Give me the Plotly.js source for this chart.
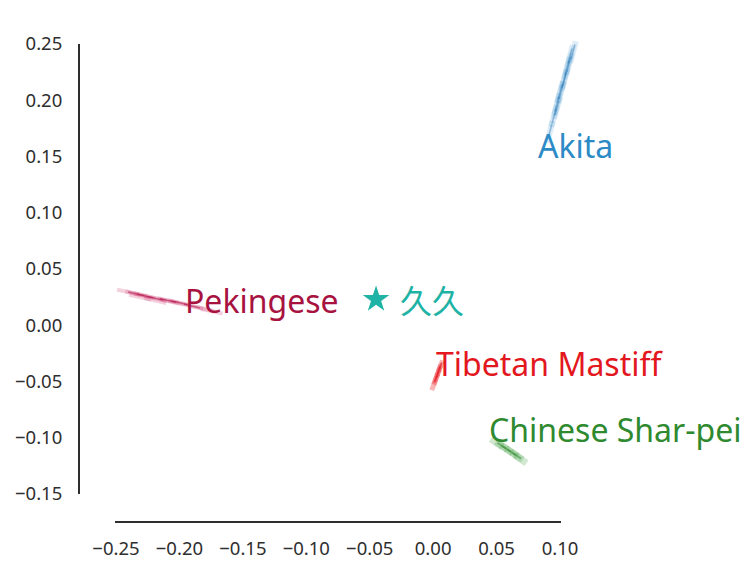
<!DOCTYPE html>
<html>
<head>
<meta charset="utf-8">
<script src="https://cdn.plot.ly/plotly-3.0.1.min.js"></script>
<style>html,body{margin:0;padding:0;background:#ffffff;}</style>
</head>
<body>
<div id="chart" style="width:752px;height:570px;"></div>
<script>
// ---- data ----
const breeds = ["Akita", "Pekingese", "Tibetan Mastiff", "Chinese Shar-pei"];

const akitaX = [0.092, 0.0953, 0.0976, 0.100, 0.1031, 0.1055, 0.1079, 0.0976, 0.1008, 0.1039, 0.1071, 0.1102];
const akitaY = [0.172, 0.186, 0.1967, 0.2073, 0.218, 0.2287, 0.2393, 0.1931, 0.2073, 0.2198, 0.2322, 0.2429];

const pekingeseX = [-0.2405, -0.234, -0.227, -0.219, -0.209, -0.200, -0.190, -0.182, -0.1745, -0.231, -0.219, -0.207];
const pekingeseY = [0.0295, 0.028, 0.026, 0.024, 0.022, 0.020, 0.017, 0.015, 0.0125, 0.025, 0.022, 0.021];

const mastiffX = [0.0005, 0.002, 0.0033, 0.0046, 0.0058];
const mastiffY = [-0.053, -0.048, -0.044, -0.040, -0.036];

const sharpeiX = [0.050, 0.054, 0.058, 0.062, 0.066, 0.069];
const sharpeiY = [-0.1045, -0.107, -0.110, -0.113, -0.116, -0.119];

const jiujiuX = [-0.045];
const jiujiuY = [0.023];
const jiujiuName = "久久";

const labelX = [0.081, -0.197, 0.001, 0.0425];
const labelY = [0.160, 0.022, -0.034, -0.093];

const xTicks = [-0.25, -0.20, -0.15, -0.10, -0.05, 0.00, 0.05, 0.10];
const yTicks = [-0.15, -0.10, -0.05, 0.00, 0.05, 0.10, 0.15, 0.20, 0.25];

// ---- styles ----
const clusterColors = ["#6aaedb", "#d64a7c", "#ee2a30", "#4aa54a"];
const coreColors = ["#2a78b5", "#b01048", "#e0101a", "#2e8a2e"];
const textColors = ["#2c8bc6", "#a8123f", "#e3171e", "#2f8a2f"];
const teal = "#1fb3a6";

function streak(x, y, color, symbol, angle, size, width, opacity, name) {
  return {
    type: "scatter", mode: "markers", x: x, y: y, name: name,
    cliponaxis: false, hoverinfo: "skip",
    marker: { symbol: symbol, angle: angle, size: size, color: color, opacity: opacity,
              line: { color: color, width: width } }
  };
}

const traces = [
  streak(akitaX, akitaY, clusterColors[0], "line-ns", 15, 16, 6, 0.22, breeds[0]),
  streak(akitaX, akitaY, coreColors[0], "line-ns", 15, 11, 1.5, 0.45, breeds[0]),
  streak(pekingeseX, pekingeseY, clusterColors[1], "line-ew", 12.5, 16, 4, 0.25, breeds[1]),
  streak(pekingeseX.slice(1, 7), pekingeseY.slice(1, 7), coreColors[1], "line-ew", 12.5, 12, 1.6, 0.55, breeds[1]),
  streak(mastiffX, mastiffY, clusterColors[2], "line-ns", 22, 8, 5, 0.35, breeds[2]),
  streak(mastiffX.slice(1, 5), mastiffY.slice(1, 5), coreColors[2], "line-ns", 22, 5, 2, 0.6, breeds[2]),
  streak(sharpeiX, sharpeiY, clusterColors[3], "line-ew", 34, 10, 7, 0.25, breeds[3]),
  streak(sharpeiX.slice(1, 5), sharpeiY.slice(1, 5), coreColors[3], "line-ew", 34, 7, 2, 0.5, breeds[3]),
  {
    type: "scatter", mode: "markers", x: jiujiuX, y: jiujiuY, name: jiujiuName,
    cliponaxis: false, hoverinfo: "skip",
    marker: { symbol: "star", size: 20, color: teal, line: { width: 0 } }
  },
  // carrier for the spine axes
  { type: "scatter", mode: "markers", x: [null], y: [null], xaxis: "x2", yaxis: "y2", hoverinfo: "skip", showlegend: false }
];

const annotations = breeds.map((b, i) => ({
  x: labelX[i], y: labelY[i], xref: "x", yref: "y", text: b, showarrow: false,
  xanchor: "left", yanchor: "middle",
  font: { family: "Noto Sans, 'Noto Sans CJK SC', sans-serif", size: 32, color: textColors[i] }
}));
annotations.push({
  x: jiujiuX[0], y: jiujiuY[0], xref: "x", yref: "y", text: jiujiuName, showarrow: false,
  xanchor: "left", yanchor: "middle", xshift: 22,
  font: { family: "'Noto Sans CJK SC', sans-serif", size: 32, color: teal }
});

const tickFont = { family: "Noto Sans, sans-serif", size: 18.5, color: "#2e2e2e" };

// pixel mapping: x=-0.25 at 116px, x=0.10 at 560px; y=0.25 at 44px, y=-0.15 at 494px
const W = 752, H = 570;
const xPerPx = 0.35 / 444, yPerPx = 0.40 / 450;

const layout = {
  width: W, height: H,
  margin: { l: 0, r: 0, t: 0, b: 0, pad: 0 },
  paper_bgcolor: "#ffffff", plot_bgcolor: "rgba(0,0,0,0)",
  showlegend: false,
  xaxis: {
    domain: [0, 1], range: [-0.25 - 116 * xPerPx, -0.25 + (W - 116) * xPerPx],
    visible: false, fixedrange: true
  },
  yaxis: {
    domain: [0, 1], range: [0.25 - (H - 44) * yPerPx, 0.25 + 44 * yPerPx],
    visible: false, fixedrange: true
  },
  xaxis2: {
    domain: [115 / W, 561 / W], range: [-0.25 - xPerPx, 0.10 + xPerPx],
    anchor: "free", position: (H - 522) / H,
    showline: true, linecolor: "#2e2e2e", linewidth: 2,
    showgrid: false, zeroline: false,
    tickmode: "array", tickvals: xTicks, tickformat: ".2f",
    ticks: "outside", ticklen: 10, tickcolor: "rgba(0,0,0,0)",
    tickfont: tickFont
  },
  yaxis2: {
    domain: [(H - 494) / H, (H - 44) / H], range: [-0.15, 0.25],
    anchor: "free", position: 79 / W,
    showline: true, linecolor: "#2e2e2e", linewidth: 2,
    showgrid: false, zeroline: false,
    tickmode: "array", tickvals: yTicks, tickformat: ".2f",
    ticks: "outside", ticklen: 12, tickcolor: "rgba(0,0,0,0)",
    tickfont: tickFont
  },
  annotations: annotations
};

Plotly.newPlot("chart", traces, layout, { staticPlot: true, displayModeBar: false });
</script>
</body>
</html>
